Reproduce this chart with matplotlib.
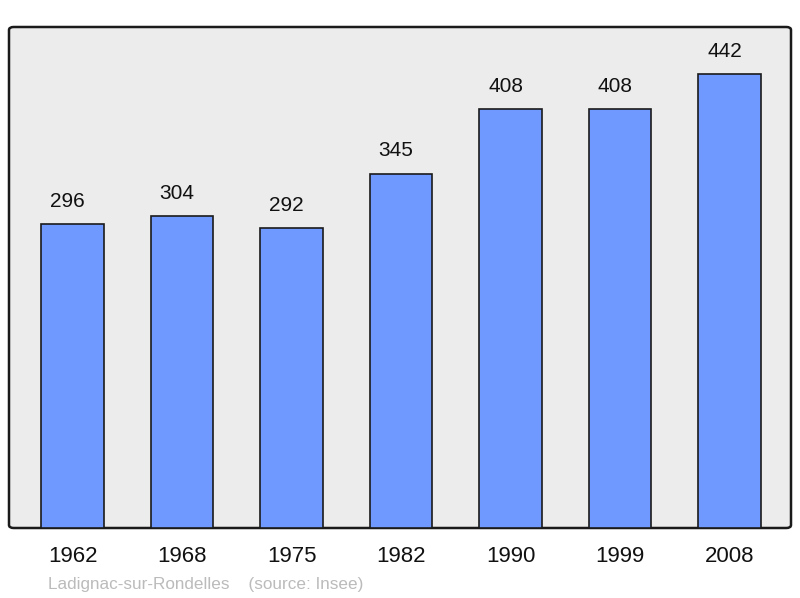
import matplotlib.pyplot as plt
from matplotlib.patches import FancyBboxPatch

# Données de population
annees = ['1962', '1968', '1975', '1982', '1990', '1999', '2008']
population = [296, 304, 292, 345, 408, 408, 442]

plt.rcParams['font.family'] = ['Liberation Sans', 'DejaVu Sans']

fig = plt.figure(figsize=(8, 5.98), dpi=100)
ax = fig.add_axes([9/800, 1 - 528/598, 782/800, 501/598])
ax.set_xlim(-0.58, 6.56)
ax.set_ylim(0, 488)
ax.axis('off')

# cadre arrondi
cadre = FancyBboxPatch((0, 0), 1, 1, boxstyle='round,pad=0,rounding_size=0.006',
                       transform=ax.transAxes, facecolor='#ececec',
                       edgecolor='#1a1a1a', linewidth=1.8, zorder=0, clip_on=False)
ax.add_patch(cadre)

x = range(len(annees))
barres = ax.bar(x, population, width=0.57, color='#7099ff', edgecolor='#1a1a1a',
                linewidth=1.2, zorder=2)
for xi, v in zip(x, population):
    ax.text(xi - 0.045, v + 13, str(v), ha='center', va='bottom', fontsize=15, color='#111111')
    ax.text(xi, -18, annees[xi], ha='center', va='top', fontsize=16, color='#111111',
            clip_on=False)

fig.text(48/800, 1 - 584/598, 'Ladignac-sur-Rondelles    (source: Insee)',
         fontsize=12.3, color='#bbbbbb', va='center', ha='left')

fig.savefig('out.png', dpi=100)
